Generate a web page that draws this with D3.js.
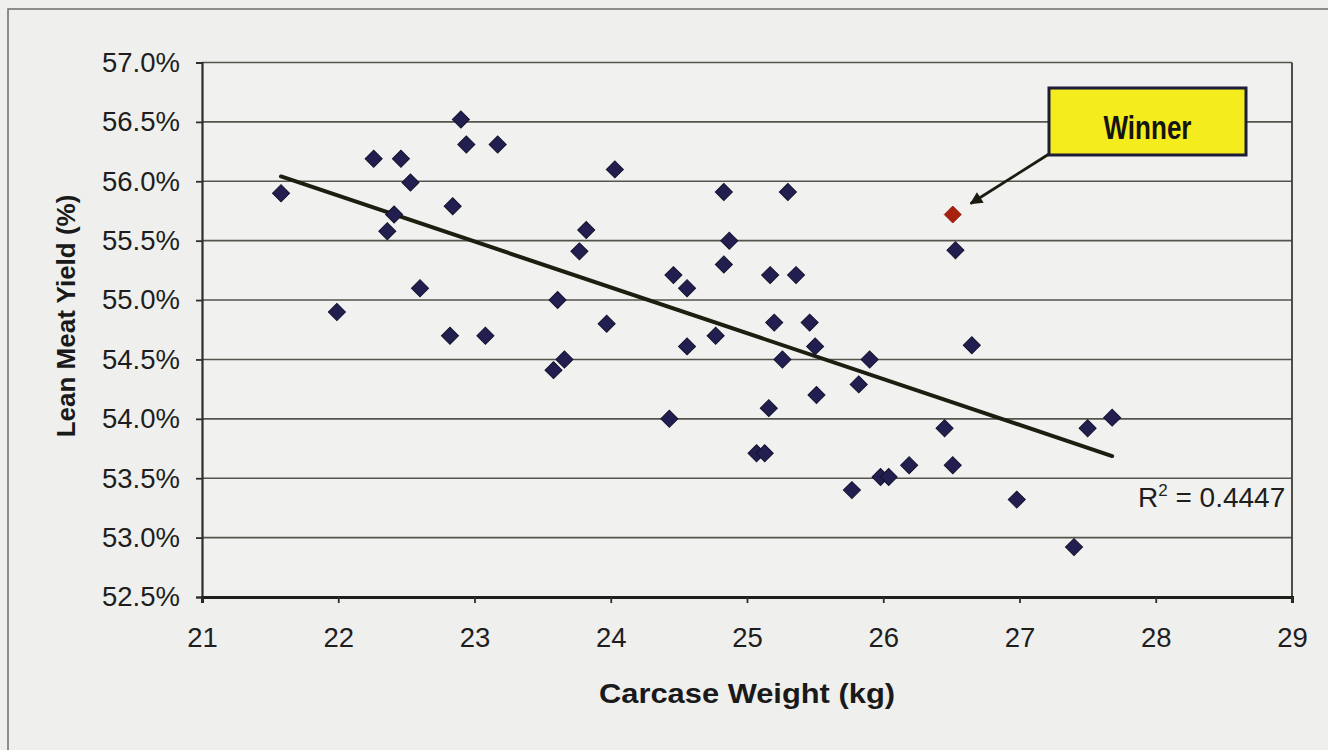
<!DOCTYPE html>
<html>
<head>
<meta charset="utf-8">
<script src="https://cdn.jsdelivr.net/npm/d3@7"></script>
<style>
  html, body { margin: 0; padding: 0; background: #efefed; }
  svg { display: block; }
  text { font-family: "Liberation Sans", Arial, Helvetica, sans-serif; }
</style>
</head>
<body>
<svg id="chart" width="1328" height="750"></svg>
<script>
// ---- data ----
const carcaseWeight = [21.58, 21.99, 22.26, 22.46, 22.53, 22.41, 22.36, 22.60, 22.84, 22.90,
  22.94, 23.17, 22.82, 23.08, 24.03, 23.82, 23.77, 23.61, 23.66, 23.58,
  23.97, 24.83, 25.30, 24.87, 24.83, 24.46, 24.56, 25.17, 25.36, 24.56,
  24.77, 25.20, 25.46, 25.50, 25.26, 25.90, 25.82, 25.51, 25.16, 24.43,
  26.53, 26.65, 26.45, 26.51, 26.19, 25.07, 25.13, 25.98, 26.04, 25.77,
  26.98, 27.50, 27.68, 27.40];
const leanYield = [55.90, 54.90, 56.19, 56.19, 55.99, 55.72, 55.58, 55.10, 55.79, 56.52,
  56.31, 56.31, 54.70, 54.70, 56.10, 55.59, 55.41, 55.00, 54.50, 54.41,
  54.80, 55.91, 55.91, 55.50, 55.30, 55.21, 55.10, 55.21, 55.21, 54.61,
  54.70, 54.81, 54.81, 54.61, 54.50, 54.50, 54.29, 54.20, 54.09, 54.00,
  55.42, 54.62, 53.92, 53.61, 53.61, 53.71, 53.71, 53.51, 53.51, 53.40,
  53.32, 53.92, 54.01, 52.92];
const winnerWeight = [26.51];
const winnerYield = [55.72];
const xTicks = [21, 22, 23, 24, 25, 26, 27, 28, 29];
const yTicks = [52.5, 53.0, 53.5, 54.0, 54.5, 55.0, 55.5, 56.0, 56.5, 57.0];
const rSquaredLabel = "0.4447";
const winnerLabel = "Winner";
const xTitle = "Carcase Weight (kg)";
const yTitle = "Lean Meat Yield (%)";

// ---- layout ----
const svg = d3.select("#chart");
const W = 1328, H = 750;
const plot = { left: 202, right: 1292, top: 62.5, bottom: 597 };

const x = d3.scaleLinear().domain([21, 29]).range([plot.left, plot.right]);
const y = d3.scaleLinear().domain([52.5, 57.0]).range([plot.bottom, plot.top]);

// background + outer frame
svg.append("rect").attr("x", 0).attr("y", 0).attr("width", W).attr("height", H).attr("fill", "#efefed");
svg.append("rect").attr("x", 8).attr("y", 9).attr("width", 1340).attr("height", 760)
  .attr("fill", "none").attr("stroke", "#6d6d68").attr("stroke-width", 1.5);

// plot area
svg.append("rect")
  .attr("x", plot.left).attr("y", plot.top)
  .attr("width", plot.right - plot.left).attr("height", plot.bottom - plot.top)
  .attr("fill", "#f1f1ef");

// gridlines
svg.append("g").selectAll("line")
  .data(yTicks.filter(d => d > 52.5))
  .join("line")
  .attr("x1", plot.left).attr("x2", plot.right)
  .attr("y1", d => y(d)).attr("y2", d => y(d))
  .attr("stroke", "#55554e").attr("stroke-width", 1.6);

// right border of plot
svg.append("line").attr("x1", plot.right).attr("x2", plot.right)
  .attr("y1", plot.top).attr("y2", plot.bottom)
  .attr("stroke", "#3c3c35").attr("stroke-width", 1.8);

// y axis
const yAxis = d3.axisLeft(y).tickValues(yTicks).tickSize(6).tickPadding(16)
  .tickFormat(d => d.toFixed(1) + "%");
const gy = svg.append("g").attr("transform", `translate(${plot.left},0)`).call(yAxis);
gy.select(".domain").attr("stroke", "#2f2f2a").attr("stroke-width", 2.2);
gy.selectAll(".tick line").attr("stroke", "#2f2f2a").attr("stroke-width", 1.8);
gy.selectAll(".tick text").attr("font-size", 27.5).attr("fill", "#1e1e1e").attr("font-family", "Liberation Sans, Arial, sans-serif");

// x axis
const xAxis = d3.axisBottom(x).tickValues(xTicks).tickSize(6).tickPadding(24).tickFormat(d3.format("d"));
const gx = svg.append("g").attr("transform", `translate(0,${plot.bottom})`).call(xAxis);
gx.select(".domain").attr("stroke", "#1f1f1a").attr("stroke-width", 3);
gx.selectAll(".tick line").attr("stroke", "#2f2f2a").attr("stroke-width", 1.8);
gx.selectAll(".tick text").attr("font-size", 27.5).attr("fill", "#1e1e1e").attr("font-family", "Liberation Sans, Arial, sans-serif");

// axis titles
svg.append("text")
  .attr("x", (plot.left + plot.right) / 2).attr("y", 703)
  .attr("text-anchor", "middle").attr("font-weight", "bold").attr("font-size", 27)
  .attr("textLength", 296).attr("lengthAdjust", "spacingAndGlyphs")
  .attr("fill", "#1a1a1a").text(xTitle);
svg.append("text")
  .attr("transform", `translate(75,316) rotate(-90)`)
  .attr("text-anchor", "middle").attr("font-weight", "bold").attr("font-size", 26)
  .attr("fill", "#1a1a1a").text(yTitle);

// linear regression (trendline) from all points
const allX = carcaseWeight.concat(winnerWeight);
const allY = leanYield.concat(winnerYield);
const mx = d3.mean(allX), my = d3.mean(allY);
const sxy = d3.sum(allX, (v, i) => (v - mx) * (allY[i] - my));
const sxx = d3.sum(allX, v => (v - mx) * (v - mx));
const slope = sxy / sxx, intercept = my - slope * mx;
const xMin = d3.min(allX), xMax = d3.max(allX);
svg.append("path")
  .datum([xMin, xMax])
  .attr("d", d3.line().x(d => x(d)).y(d => y(intercept + slope * d)))
  .attr("stroke", "#1d1e10").attr("stroke-width", 4).attr("fill", "none")
  .attr("stroke-linecap", "round");

// markers
const diamond = d3.symbol().type(d3.symbolSquare).size(145);
const pts = carcaseWeight.map((v, i) => [v, leanYield[i]]);
svg.append("g").selectAll("path")
  .data(pts).join("path")
  .attr("d", diamond)
  .attr("transform", d => `translate(${x(d[0])},${y(d[1])}) rotate(45)`)
  .attr("fill", "#221f50").attr("stroke", "#15132e").attr("stroke-width", 1);

const wpts = winnerWeight.map((v, i) => [v, winnerYield[i]]);
svg.append("g").selectAll("path")
  .data(wpts).join("path")
  .attr("d", diamond)
  .attr("transform", d => `translate(${x(d[0])},${y(d[1])}) rotate(45)`)
  .attr("fill", "#a8200e").attr("stroke", "#8a1a0a").attr("stroke-width", 0.8);

// R squared label
const rt = svg.append("text").attr("x", 1138).attr("y", 507)
  .attr("font-size", 28).attr("fill", "#1e1e1e");
rt.append("tspan").text("R");
rt.append("tspan").attr("font-size", 17).attr("dy", -11).text("2");
rt.append("tspan").attr("dy", 11).text(" = " + rSquaredLabel);

// Winner callout
const defs = svg.append("defs");
defs.append("marker").attr("id", "arrow")
  .attr("viewBox", "0 0 10 10").attr("refX", 9).attr("refY", 5)
  .attr("markerWidth", 6).attr("markerHeight", 4.5).attr("orient", "auto")
  .attr("markerUnits", "strokeWidth")
  .append("path").attr("d", "M0,0 L10,5 L0,10 Z").attr("fill", "#1b1b12");

const wp = wpts[0];
const box = { x: 1049, y: 88, w: 197, h: 67 };
svg.append("line")
  .attr("x1", box.x).attr("y1", box.y + box.h - 1)
  .attr("x2", x(wp[0]) + 18).attr("y2", y(wp[1]) - 11)
  .attr("stroke", "#1b1b12").attr("stroke-width", 2.8)
  .attr("marker-end", "url(#arrow)");
svg.append("rect")
  .attr("x", box.x).attr("y", box.y).attr("width", box.w).attr("height", box.h)
  .attr("fill", "#f4ec1c").attr("stroke", "#1d1d3a").attr("stroke-width", 3);
svg.append("text")
  .attr("x", box.x + box.w / 2).attr("y", 139)
  .attr("text-anchor", "middle").attr("font-weight", "bold").attr("font-size", 33)
  .attr("textLength", 88).attr("lengthAdjust", "spacingAndGlyphs")
  .attr("font-family", "'Liberation Sans Narrow', 'Arial Narrow', 'Liberation Sans', Arial, sans-serif")
  .attr("fill", "#141414").text(winnerLabel);
</script>
</body>
</html>
